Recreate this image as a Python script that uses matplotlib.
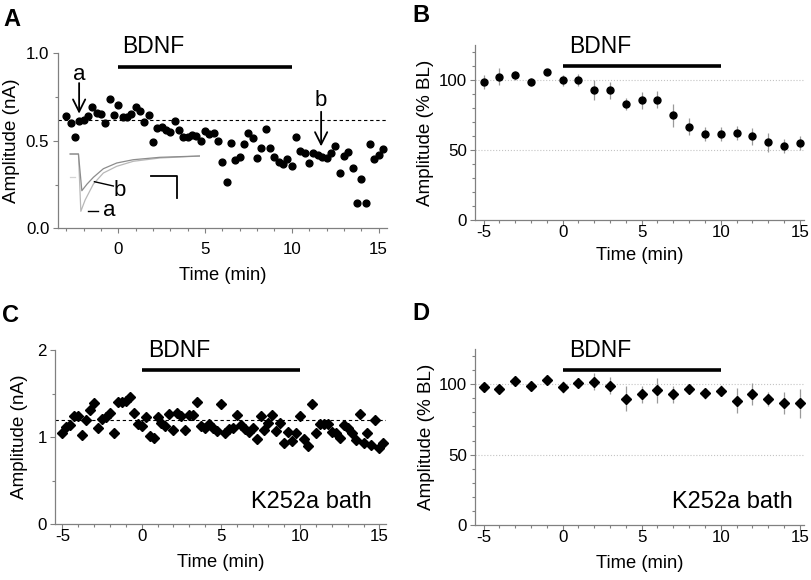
import numpy as np
import matplotlib
matplotlib.use("Agg")
import matplotlib.pyplot as plt
from matplotlib.ticker import MultipleLocator, FormatStrFormatter

plt.rcParams["font.family"] = ["Liberation Sans", "DejaVu Sans"]
plt.rcParams["axes.unicode_minus"] = False

# ---- panel A: one cell, one sweep every 15 s ----
a_time = np.arange(74) * 0.25 - 3.0
a_amp = [0.644, 0.603, 0.524, 0.615, 0.619, 0.644, 0.691, 0.657, 0.651, 0.600,
         0.739, 0.647, 0.705, 0.634, 0.634, 0.651, 0.691, 0.672, 0.606, 0.647,
         0.495, 0.571, 0.581, 0.562, 0.549, 0.613, 0.562, 0.524, 0.520, 0.533,
         0.529, 0.500, 0.556, 0.537, 0.543, 0.499, 0.381, 0.266, 0.486, 0.390,
         0.410, 0.480, 0.546, 0.514, 0.404, 0.461, 0.566, 0.461, 0.410, 0.381,
         0.367, 0.396, 0.358, 0.523, 0.443, 0.428, 0.371, 0.432, 0.419, 0.406,
         0.400, 0.432, 0.470, 0.318, 0.413, 0.438, 0.343, 0.146, 0.282, 0.143,
         0.480, 0.394, 0.419, 0.451]
a_base = 0.62

# inset traces (arbitrary units)
tr_t_a = [5, 13.3, 15.7, 20, 28.3, 38.3, 51.7, 68.3, 95, 135]
tr_a = [0, 0, -57.3, -46, -30, -19, -12.3, -7.3, -4, -2]
tr_t_b = [5, 13.3, 16.7, 22, 28.3, 38.3, 51.7, 68.3, 95, 135]
tr_b = [0, 0, -36.7, -30, -23.3, -14.7, -9, -5.7, -3.3, -2]

# ---- panel B: group mean +- sem (% baseline) ----
b_time = list(range(-5, 16))
b_mean = [98.3, 102.4, 103.3, 98.6, 106.0, 99.8, 100.0, 92.9, 92.6, 82.9, 85.5,
          86.0, 74.8, 66.7, 61.2, 61.2, 62.4, 59.8, 55.5, 52.9, 55.0]
b_sem = [5, 6, 3, 3, 2, 4, 4, 7, 6, 4, 6, 6, 8, 6, 5, 5, 5, 6, 7, 5, 5]

# ---- panel C: one cell in K252a ----
c_time = np.arange(82) * 0.25 - 5.0
c_amp = [1.043, 1.120, 1.139, 1.245, 1.245, 1.024, 1.196, 1.311, 1.394, 1.108,
         1.204, 1.234, 1.280, 1.050, 1.399, 1.406, 1.414, 1.463, 1.280, 1.147,
         1.127, 1.234, 1.013, 0.986, 1.234, 1.158, 1.127, 1.265, 1.081, 1.280,
         1.242, 1.081, 1.253, 1.250, 1.406, 1.127, 1.100, 1.147, 1.100, 1.074,
         1.380, 1.050, 1.089, 1.100, 1.257, 1.139, 1.089, 1.062, 1.100, 0.975,
         1.245, 1.081, 1.158, 1.253, 1.070, 1.158, 0.929, 1.062, 0.959, 1.044,
         1.245, 0.975, 0.898, 1.380, 1.050, 1.147, 1.147, 1.150, 1.062, 1.044,
         0.990, 1.139, 1.100, 1.050, 0.967, 1.261, 0.929, 1.050, 0.910, 1.196,
         0.871, 0.929]
c_base = 1.2

# ---- panel D: group mean +- sem in K252a ----
d_time = list(range(-5, 16))
d_mean = [98.1, 96.7, 102.4, 98.8, 103.1, 98.1, 101.2, 101.7, 98.8, 89.8, 92.7,
          95.7, 92.9, 96.4, 93.4, 95.5, 88.2, 92.9, 89.8, 86.5, 86.3]
d_sem = [2, 2, 2, 2, 2, 4, 3, 6, 6, 9, 6, 9, 6, 3, 4, 4, 9, 8, 5, 8, 10]

bdnf = (0, 10)

GRAY = "#808080"
W, H = 812, 580


def box(l, r, b, t):
    # pixel box -> figure fraction
    return [l / W, 1 - b / H, (r - l) / W, (b - t) / H]


def style(ax, xlim, ylim, ymaj, ymin, xpad, ypad):
    for s in ("top", "right"):
        ax.spines[s].set_visible(False)
    for s in ("left", "bottom"):
        ax.spines[s].set_color(GRAY)
        ax.spines[s].set_linewidth(0.9)
    ax.set_xlim(xlim)
    ax.set_ylim(ylim)
    ax.xaxis.set_major_locator(MultipleLocator(5))
    ax.xaxis.set_minor_locator(MultipleLocator(1))
    ax.yaxis.set_major_locator(MultipleLocator(ymaj))
    ax.yaxis.set_minor_locator(MultipleLocator(ymin))
    ax.tick_params(which="both", direction="out", color=GRAY, width=0.8, labelsize=12.2)
    ax.tick_params(which="major", length=3.5)
    ax.tick_params(which="minor", length=2)
    ax.tick_params(axis="x", pad=xpad)
    ax.tick_params(axis="y", pad=ypad)
    ax.set_xlabel("Time (min)", fontsize=13.2)


def bdnf_bar(ax, y_bar, x_txt, y_txt):
    ax.plot(bdnf, [y_bar, y_bar], color="black", lw=2.6, solid_capstyle="butt", clip_on=False)
    ax.text(x_txt, y_txt, "BDNF", fontsize=16.5, ha="left", va="baseline", clip_on=False)


fig = plt.figure(figsize=(W / 100, H / 100), dpi=100)

# A
ax = fig.add_axes(box(58.3, 386.7, 228.3, 53.3))
style(ax, (-3.46, 15.47), (0, 1.0), 0.5, 0.25, 6.5, 3)
ax.yaxis.set_major_formatter(FormatStrFormatter("%.1f"))
ax.axhline(a_base, color="black", lw=0.8, ls=(0, (3, 2.5)))
ax.plot(a_time, a_amp, "o", color="black", ms=4.9, clip_on=False)
bdnf_bar(ax, 0.923, 0.2, 1.0)
ax.set_ylabel("Amplitude (nA)", fontsize=13.6)
ax.yaxis.set_label_coords(-0.117, 0.5)
ax.xaxis.labelpad = 7
ax.text(-2.26, 0.847, "a", fontsize=16, ha="center", va="baseline")
ax.annotate("", xy=(-2.26, 0.655), xytext=(-2.26, 0.83),
            arrowprops=dict(arrowstyle="->", lw=1.3, color="black", mutation_scale=22, shrinkA=0, shrinkB=0))
ax.text(11.69, 0.699, "b", fontsize=16, ha="center", va="baseline")
ax.annotate("", xy=(11.69, 0.468), xytext=(11.69, 0.666),
            arrowprops=dict(arrowstyle="->", lw=1.3, color="black", mutation_scale=22, shrinkA=0, shrinkB=0))

ins = ax.inset_axes([-3.063, 0.076, 7.758, 0.3714], transform=ax.transData)
ins.set_xlim(0, 135)
ins.set_ylim(-61, 4)
ins.axis("off")
ins.plot(tr_t_a, tr_a, color="#b8b8b8", lw=0.9)
ins.plot(tr_t_b, tr_b, color="#8c8c8c", lw=0.9)
ins.plot([5, 10], [-23.3, -23.3], color="#d4d4d4", lw=0.9)
ins.plot([85.7, 111.7, 111.7], [-22.3, -22.3, -44], color="black", lw=1.3)
ins.plot([29.3, 48.3], [-27.7, -32], color="black", lw=1)
ins.plot([23.3, 33.3], [-56.7, -56.7], color="black", lw=1)
ins.text(55, -41.7, "b", fontsize=16, ha="center", va="baseline", clip_on=False)
ins.text(44.3, -62.3, "a", fontsize=16, ha="center", va="baseline", clip_on=False)

# B
ax = fig.add_axes(box(475.3, 804.3, 220.3, 45))
style(ax, (-5.53, 15.29), (0, 125), 50, 10, 0, 2.5)
for g in (50, 100):
    ax.axhline(g, color="#c4c4c4", lw=0.8, ls=":", zorder=0)
ax.errorbar(b_time, b_mean, yerr=b_sem, fmt="o", color="black", ms=5,
            ecolor="#9a9a9a", elinewidth=0.9, capsize=0, clip_on=False)
bdnf_bar(ax, 109.7, 0.42, 119.3)
ax.set_ylabel("Amplitude (% BL)", fontsize=13.6)
ax.yaxis.set_label_coords(-0.1255, 0.5)
ax.xaxis.labelpad = 5

# C
ax = fig.add_axes(box(55, 385.7, 524.3, 350))
style(ax, (-5.47, 15.4), (0, 2), 1, 0.5, 0, 2.5)
ax.axhline(c_base, color="black", lw=0.8, ls=(0, (3, 2.5)))
ax.plot(c_time, c_amp, "D", color="black", ms=4.8, clip_on=False)
bdnf_bar(ax, 1.77, 0.42, 1.922)
ax.text(14.5, 0.183, "K252a bath", fontsize=17, ha="right", va="baseline")
ax.set_ylabel("Amplitude (nA)", fontsize=13.6)
ax.yaxis.set_label_coords(-0.0807, 0.5)
ax.xaxis.labelpad = 7

# D
ax = fig.add_axes(box(475.3, 804.3, 525, 349))
style(ax, (-5.53, 15.29), (0, 125), 50, 10, 0, 2.5)
for g in (50, 100):
    ax.axhline(g, color="#c4c4c4", lw=0.8, ls=":", zorder=0)
ax.errorbar(d_time, d_mean, yerr=d_sem, fmt="D", color="black", ms=4.8,
            ecolor="#9a9a9a", elinewidth=0.9, capsize=0, clip_on=False)
bdnf_bar(ax, 110.2, 0.42, 119.6)
ax.text(14.56, 11.9, "K252a bath", fontsize=17, ha="right", va="baseline")
ax.set_ylabel("Amplitude (% BL)", fontsize=13.6)
ax.yaxis.set_label_coords(-0.124, 0.5)
ax.xaxis.labelpad = 7

for lab, x, y in (("A", 3, 20), ("B", 412.7, 15), ("C", 1.7, 315), ("D", 412.7, 314)):
    fig.text(x / W, 1 - y / H, lab, fontsize=17, fontweight="bold", ha="left", va="center")

fig.savefig("out.png", dpi=100)
